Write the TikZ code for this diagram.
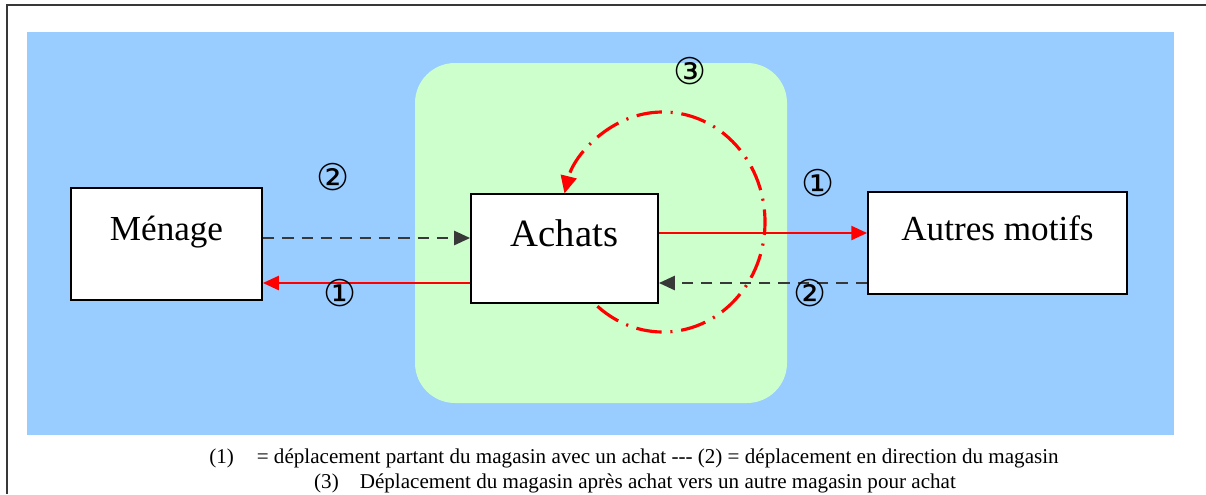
\documentclass[tikz,border=0pt]{standalone}
\usepackage{fontspec}
\setmainfont{Liberation Serif}
\newfontfamily\circfont{DejaVu Sans}
\usepackage{tikz}
\usetikzlibrary{arrows.meta}
\usetikzlibrary{calc}

\definecolor{fondbleu}{HTML}{99CCFF}
\definecolor{fondvert}{HTML}{CCFFCC}
\definecolor{gristrait}{HTML}{383838}

\begin{document}
\begin{tikzpicture}[x=0.02cm,y=0.02cm,
    boite/.style={draw=black, line width=1.1pt, fill=white, inner sep=0pt, font=\fontsize{20}{24}\selectfont},
    tirets/.style={gristrait, line width=1.2pt, dash pattern=on 6.5pt off 4.5pt, -{Triangle[length=9pt,width=8pt]}},
    rouge/.style={red, line width=1.2pt, -{Triangle[length=9pt,width=8pt]}},
    boucle/.style={red, line width=1.8pt, dash pattern=on 14.5pt off 5pt on 1.2pt off 5pt, -{Triangle[length=10pt,width=9pt]}},
    num/.style={font=\circfont\fontsize{21}{21}\selectfont, inner sep=0pt}]
                \useasboundingbox (0,0) rectangle (1206,-494);
                \draw[gristrait, line width=0.9pt](7,-494)--(7,-5)--(1206,-5);
                \fill[fondbleu](27,-32) rectangle (1174,-435);
                \fill[fondvert, rounded corners=0.8cm](415,-63) rectangle (787,-403);
                \node[boite, minimum width=3.82cm, text height=1.04cm, text depth=1.2cm] (menage) at (166.5,-244){M\'enage};
                \node[boite, minimum width=3.74cm, text height=1.04cm, text depth=1.14cm, font=\fontsize{22}{26}\selectfont] (achats) at (564.5,-248.5){Achats};
                \node[boite, minimum width=5.18cm, text height=0.96cm, text depth=1.08cm] (autres) at (997.5,-243){Autres motifs};
                \draw[tirets](menage.east |- 0,-238)--(achats.west |- 0,-238);
                \draw[rouge](achats.west |- 0,-283)--(menage.east |- 0,-283);
                \draw[rouge](achats.east |- 0,-233)--(autres.west |- 0,-233);
                \draw[tirets](autres.west |- 0,-283)--(achats.east |- 0,-283);
                \coordinate (centre) at (663,-222);
                \draw[boucle]($(centre)+(230:102 and 110)$) arc[start angle=230, end angle=525, x radius=102, y radius=110];
                \node[num] (n3) at (690,-71){③};
                \node[num] (n2g) at (333,-177){②};
                \node[num] (n1g) at (340,-293){①};
                \node[num] (n1d) at (818,-183){①};
                \node[num] (n2d) at (810,-293){②};
                \node[font=\fontsize{12}{14}\selectfont, inner sep=0pt] (legende1) at (634,-458){(1)\hspace{13pt}= d\'eplacement partant du magasin avec un achat -{}-{}- (2) = d\'eplacement en direction du magasin};
                \node[font=\fontsize{12}{14}\selectfont, inner sep=0pt] (legende2) at (635,-483){(3)\hspace{12pt}D\'eplacement du magasin apr\`es achat vers un autre magasin pour achat};
            \end{tikzpicture}
\end{document}
